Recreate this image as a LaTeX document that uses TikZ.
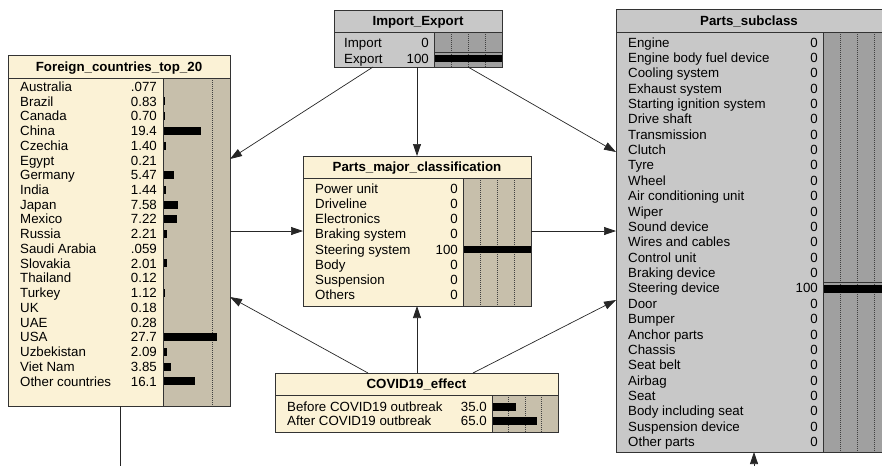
\documentclass[tikz,border=0pt]{standalone}
\usepackage{fontspec}
\setmainfont{Liberation Sans}
\usetikzlibrary{arrows.meta,calc}
\definecolor{cream}{RGB}{251,242,214}
\definecolor{tanbar}{RGB}{199,191,171}
\definecolor{lgray}{RGB}{200,200,200}
\definecolor{dgray}{RGB}{160,160,160}
\newcommand{\fsz}{\fontsize{13.3}{15}\selectfont}
\tikzset{
  box/.style={draw=black!80, line width=0.8pt, inner sep=0pt, outer sep=0pt, anchor=north west},
  frame/.style={draw=black!80, line width=0.8pt},
  lbl/.style={anchor=base west, inner sep=0pt, font=\fsz},
  val/.style={anchor=base east, inner sep=0pt, font=\fsz},
  ttl/.style={anchor=base, inner sep=0pt, font=\fsz\bfseries},
  dotln/.style={draw=black!75, line width=0.5pt, dash pattern=on 1pt off 1pt},
  conn/.style={draw=black!85, line width=0.7pt, -{Triangle[length=12pt,width=8pt]}},
  plainconn/.style={draw=black!85, line width=0.7pt},
}
\begin{document}
\begin{tikzpicture}[x=1pt,y=-1pt]
\useasboundingbox (0,0) rectangle (882,466);

% ---------- Foreign_countries_top_20 ----------
\fill[cream] (8,55) rectangle (230,406);
\fill[tanbar] (163,78) rectangle (230,406);
\draw[dotln] (212,78) -- (212,406);
\foreach \l/\v/\w [count=\i from 0] in {Australia/.077/0, Brazil/0.83/2, Canada/0.70/2, China/19.4/38,
  Czechia/1.40/3, Egypt/0.21/0, Germany/5.47/10.7, India/1.44/3, Japan/7.58/14.9, Mexico/7.22/14.2,
  Russia/2.21/4.3, Saudi Arabia/.059/0, Slovakia/2.01/4, Thailand/0.12/0, Turkey/1.12/2.2, UK/0.18/0,
  UAE/0.28/0, USA/27.7/54.3, Uzbekistan/2.09/4.1, Viet Nam/3.85/7.5, Other countries/16.1/31.6}{
  \pgfmathsetmacro\yy{86.7+14.73*\i}
  \node[lbl] at (20,\yy+4.7) {\l};
  \node[val] at (157,\yy+4.7) {\v};
  \fill[black] (163,\yy-4) rectangle ++(\w,8);
}
\node[box, minimum width=222pt, minimum height=351pt] (fc) at (8,55) {};
\draw[frame] (8,78) -- (230,78);
\draw[frame] (163,78) -- (163,406);
\node[ttl] at (119,71.2) {Foreign\_countries\_top\_20};

% ---------- Import_Export ----------
\fill[lgray] (334,10) rectangle (502,67);
\fill[dgray] (434,32) rectangle (502,67);
\foreach \xx in {451,468,485} \draw[dotln] (\xx,32) -- (\xx,67);
\node[lbl] at (344,42.7+4.7) {Import};
\node[val] at (429,42.7+4.7) {0};
\node[lbl] at (344,59+4.7) {Export};
\node[val] at (429,59+4.7) {100};
\draw[frame, line width=0.6pt] (434,52.7) -- (502,52.7);
\fill[black] (434,55) rectangle (502,61.8);
\node[box, minimum width=168pt, minimum height=57pt] (imp) at (334,10) {};
\draw[frame] (334,32) -- (502,32);
\draw[frame] (434,32) -- (434,67);
\node[ttl] at (418,25.7) {Import\_Export};

% ---------- Parts_major_classification ----------
\fill[cream] (303,156) rectangle (531,306);
\fill[tanbar] (463,178) rectangle (531,306);
\foreach \xx in {480,497,514} \draw[dotln] (\xx,178) -- (\xx,306);
\foreach \l/\v/\w [count=\i from 0] in {Power unit/0/0, Driveline/0/0, Electronics/0/0, Braking system/0/0,
  Steering system/100/68, Body/0/0, Suspension/0/0, Others/0/0}{
  \pgfmathsetmacro\yy{188.3+15.25*\i}
  \node[lbl] at (315,\yy+4.7) {\l};
  \node[val] at (458,\yy+4.7) {\v};
  \fill[black] (463,\yy-3.5) rectangle ++(\w,7.5);
}
\node[box, minimum width=228pt, minimum height=150pt] (pm) at (303,156) {};
\draw[frame] (303,178) -- (531,178);
\draw[frame] (463,178) -- (463,306);
\node[ttl] at (417,171.7) {Parts\_major\_classification};

% ---------- COVID19_effect ----------
\fill[cream] (275,373) rectangle (558,432);
\fill[tanbar] (492,395) rectangle (558,432);
\foreach \xx in {508.5,525,541.5} \draw[dotln] (\xx,395) -- (\xx,432);
\node[lbl] at (287,406.7+4.7) {Before COVID19 outbreak};
\node[val] at (487,406.7+4.7) {35.0};
\fill[black] (492,402.7) rectangle ++(24,8);
\node[lbl] at (287,421+4.7) {After COVID19 outbreak};
\node[val] at (487,421+4.7) {65.0};
\fill[black] (492,417) rectangle ++(44.5,8);
\node[box, minimum width=283pt, minimum height=59pt] (cov) at (275,373) {};
\draw[frame] (275,395) -- (558,395);
\draw[frame] (492,395) -- (492,432);
\node[ttl] at (416.5,388.7) {COVID19\_effect};

% ---------- Parts_subclass ----------
\fill[lgray] (616,9) rectangle (891,452);
\fill[dgray] (823,32) rectangle (891,452);
\foreach \xx in {840,857,874} \draw[dotln] (\xx,32) -- (\xx,452);
\foreach \l/\v/\w [count=\i from 0] in {Engine/0/0, Engine body fuel device/0/0, Cooling system/0/0,
  Exhaust system/0/0, Starting ignition system/0/0, Drive shaft/0/0, Transmission/0/0, Clutch/0/0,
  Tyre/0/0, Wheel/0/0, Air conditioning unit/0/0, Wiper/0/0, Sound device/0/0, Wires and cables/0/0,
  Control unit/0/0, Braking device/0/0, Steering device/100/68, Door/0/0, Bumper/0/0, Anchor parts/0/0,
  Chassis/0/0, Seat belt/0/0, Airbag/0/0, Seat/0/0, Body including seat/0/0, Suspension device/0/0,
  Other parts/0/0}{
  \pgfmathsetmacro\yy{42.3+15.37*\i}
  \node[lbl] at (628,\yy+4.7) {\l};
  \node[val] at (818,\yy+4.7) {\v};
  \fill[black] (823,\yy-3.5) rectangle ++(\w,8);
}
\draw[frame, line width=0.6pt] (823,282.7) -- (891,282.7);
\node[box, minimum width=275pt, minimum height=443pt] (ps) at (616,9) {};
\draw[frame] (616,32) -- (891,32);
\draw[frame] (823,32) -- (823,452);
\node[ttl] at (749,25.2) {Parts\_subclass};

% ---------- connectors ----------
\coordinate (fcout) at (120,466);
\coordinate (psin) at (754,466);
\draw[conn] ($(imp.south west)+(39,0)$) -- ($(fc.north east)+(0,104)$);
\draw[conn] ($(imp.south west)+(83,0)$) -- ($(pm.north west)+(114,0)$);
\draw[conn] ($(imp.south west)+(134,0)$) -- ($(ps.north west)+(0,143)$);
\draw[conn] ($(fc.north east)+(0,176)$) -- ($(pm.north west)+(0,75)$);
\draw[conn] ($(pm.north east)+(0,75)$) -- ($(ps.north west)+(0,222)$);
\draw[conn] ($(cov.north west)+(93,0)$) -- ($(fc.north east)+(0,242)$);
\draw[conn] ($(cov.north west)+(142,0)$) -- ($(pm.south west)+(114,0)$);
\draw[conn] ($(cov.north west)+(198,0)$) -- ($(ps.north west)+(0,291)$);
\draw[plainconn] ($(fc.south west)+(112,0)$) -- (fcout);
\draw[conn] (psin) -- ($(ps.south west)+(138,0)$);
\end{tikzpicture}
\end{document}
